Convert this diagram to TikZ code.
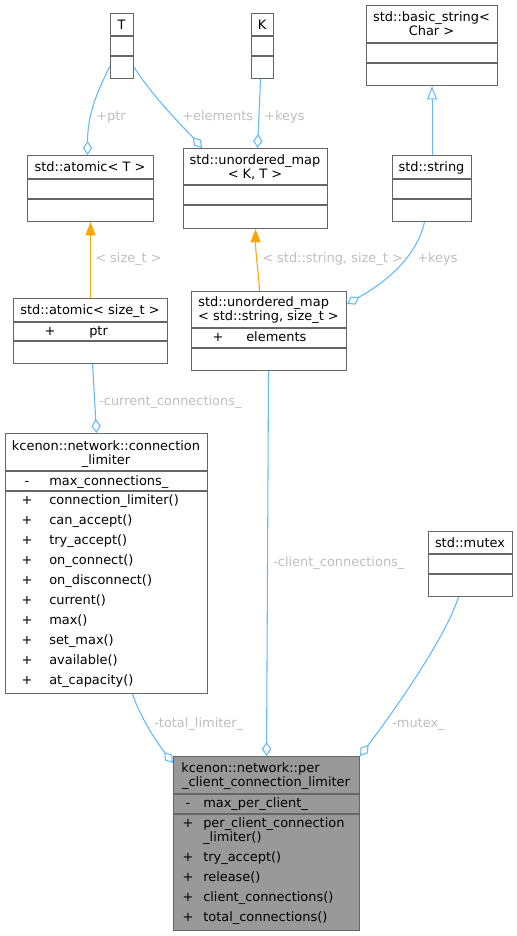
\documentclass[tikz,border=0pt]{standalone}
\usepackage{fontspec}
\setmainfont{DejaVu Sans}
\usetikzlibrary{arrows.meta,calc}
\definecolor{boxgray}{HTML}{666666}
\definecolor{focalfill}{HTML}{999999}
\definecolor{edgeblue}{HTML}{63B8FF}
\definecolor{edgeorange}{HTML}{FFA500}
\definecolor{lblgray}{HTML}{BEBEBE}
\tikzset{
  umlbox/.style={draw=boxgray, line width=0.8pt, rectangle, inner sep=0pt, anchor=north west, fill=white},
  focalbox/.style={umlbox, fill=focalfill},
  divline/.style={draw=boxgray, line width=0.8pt},
  txt/.style={inner sep=0pt, anchor=base, font=\fontsize{9.7pt}{12pt}\selectfont},
  txtw/.style={txt, anchor=base west},
  lbl/.style={txtw, text=lblgray},
  member/.style={draw=edgeblue, line width=0.8pt, -{Diamond[open, length=10.5pt, width=7pt]}},
  inherit/.style={draw=edgeblue, line width=0.8pt, -{Triangle[open, length=10pt, width=7.5pt]}},
  templ/.style={draw=edgeorange, line width=0.8pt, -{Triangle[length=10pt, width=7.5pt, fill=edgeorange]}},
}
\begin{document}
\begin{tikzpicture}[x=0.75pt,y=-0.75pt]
\useasboundingbox (0,0) rectangle (517,936);

% ---------- boxes ----------
% T
\node[umlbox, minimum width=23*0.75pt, minimum height=65*0.75pt] (nT) at (110,13) {};
\draw[divline] (110,36) -- (133,36) (110,56) -- (133,56);
\node[txt] (tT) at (121.5,29.5) {T};
% K
\node[umlbox, minimum width=22*0.75pt, minimum height=65*0.75pt] (nK) at (251,13) {};
\draw[divline] (251,36) -- (273,36) (251,56) -- (273,56);
\node[txt] (tK) at (262,29.5) {K};
% basic_string
\node[umlbox, minimum width=131*0.75pt, minimum height=80*0.75pt] (nBS) at (366,5) {};
\draw[divline] (366,43) -- (497,43) (366,63) -- (497,63);
\node[txt] (tBS1) at (431.5,21.5) {std::basic\_string<};
\node[txt] (tBS2) at (431.5,35.5) {Char >};
% atomic<T>
\node[umlbox, minimum width=126*0.75pt, minimum height=66*0.75pt] (nAT) at (27,155) {};
\draw[divline] (27,179) -- (153,179) (27,199) -- (153,199);
\node[txt] (tAT) at (90,171.5) {std::atomic< T >};
% unordered_map<K,T>
\node[umlbox, minimum width=144*0.75pt, minimum height=80*0.75pt] (nMK) at (183,148) {};
\draw[divline] (183,185) -- (327,185) (183,205) -- (327,205);
\node[txt] (tMK1) at (255,164.5) {std::unordered\_map};
\node[txt] (tMK2) at (255,178) {< K, T >};
% std::string
\node[umlbox, minimum width=79*0.75pt, minimum height=66*0.75pt] (nStr) at (392,155) {};
\draw[divline] (392,179) -- (471,179) (392,199) -- (471,199);
\node[txt] (tStr) at (431.5,171.5) {std::string};
% atomic<size_t>
\node[umlbox, minimum width=154*0.75pt, minimum height=65*0.75pt] (nAS) at (13,298) {};
\draw[divline] (13,322) -- (167,322) (13,341) -- (167,341);
\node[txt] (tAS) at (90,314.5) {std::atomic< size\_t >};
\node[txt] (tASp) at (50,335.5) {+};
\node[txtw] (tASn) at (89,335.5) {ptr};
% unordered_map<string,size_t>
\node[umlbox, minimum width=155*0.75pt, minimum height=79*0.75pt] (nMS) at (191,291) {};
\draw[divline] (191,328) -- (346,328) (191,348) -- (346,348);
\node[txtw] (tMS1) at (198,306.5) {std::unordered\_map};
\node[txt] (tMS2) at (268.5,320.5) {< std::string, size\_t >};
\node[txt] (tMSp) at (218,341.5) {+};
\node[txtw] (tMSn) at (246,341.5) {elements};
% connection_limiter
\node[umlbox, minimum width=202*0.75pt, minimum height=260*0.75pt] (nCL) at (5,433) {};
\draw[divline] (5,471) -- (207,471) (5,491) -- (207,491);
\node[txt] (tCL1) at (106,450) {kcenon::network::connection};
\node[txt] (tCL2) at (106,464.5) {\_limiter};
\node[txt] (tCLm) at (27,485) {-};
\node[txtw] (tCLmn) at (49,485) {max\_connections\_};
\foreach \i/\nm in {0/connection\_limiter(),1/can\_accept(),2/try\_accept(),3/on\_connect(),4/on\_disconnect(),5/current(),6/max(),7/set\_max(),8/available(),9/at\_capacity()}{
  \node[txt] (tCLp\i) at (27,504+20*\i) {+};
  \node[txtw] (tCLf\i) at (49,504+20*\i) {\nm};
}
% std::mutex
\node[umlbox, minimum width=84*0.75pt, minimum height=65*0.75pt] (nMX) at (428,531) {};
\draw[divline] (428,554) -- (512,554) (428,574) -- (512,574);
\node[txt] (tMX) at (470,547.5) {std::mutex};
% per_client_connection_limiter (focal)
\node[focalbox, minimum width=186*0.75pt, minimum height=174*0.75pt] (nPC) at (173,756) {};
\draw[divline] (173,794) -- (359,794) (173,814) -- (359,814);
\node[txtw] (tPC1) at (181,772.5) {kcenon::network::per};
\node[txt] (tPC2) at (266,786.5) {\_client\_connection\_limiter};
\node[txt] (tPCm) at (188,807) {-};
\node[txtw] (tPCmn) at (203,807) {max\_per\_client\_};
\node[txt] (tPCp0) at (188,827) {+};
\node[txtw] (tPCf0) at (203,827) {per\_client\_connection};
\node[txtw] (tPCf0b) at (203,841) {\_limiter()};
\foreach \i/\nm in {1/try\_accept(),2/release(),3/client\_connections(),4/total\_connections()}{
  \node[txt] (tPCp\i) at (188,841+20*\i) {+};
  \node[txtw] (tPCf\i) at (203,841+20*\i) {\nm};
}

% ---------- connectors ----------
\draw[member] ($(nT.south west)+(0,-13)$) .. controls +(-14,28) and +(0,-40) .. ($(nAT.north)+(-3,0)$);
\draw[member] ($(nT.south east)+(0,-12)$) .. controls +(20,32) and +(-12,-14) .. ($(nMK.north west)+(19,0)$);
\draw[member] ($(nK.south)+(-2,0)$) -- ($(nMK.north)+(2,0)$);
\draw[inherit] (nStr.north) -- (nBS.south);
\draw[templ] (nAS.north) -- (nAT.south);
\draw[templ] ($(nMS.north)+(-9.5,0)$) .. controls +(-2,-30) and +(0,25) .. (nMK.south);
\draw[member] ($(nStr.south)+(-7.5,0)$) .. controls +(-10,42) and +(28,-16) .. ($(nMS.north east)+(0,13)$);
\draw[member] ($(nAS.south)+(2,0)$) -- ($(nCL.north)+(-10,0)$);
\draw[member] ($(nMS.south)+(-0.5,0)$) -- (nPC.north);
\draw[member] ($(nMX.south)+(-12,0)$) .. controls +(-15,45) and +(30,-40) .. (nPC.north east);
\draw[member] ($(nCL.south)+(26,0)$) .. controls +(8,25) and +(-12,-15) .. ($(nPC.north west)+(0,7)$);

% ---------- labels ----------
\node[lbl] (l1) at (96,120) {+ptr};
\node[lbl] (l2) at (182,120) {+elements};
\node[lbl] (l3) at (264,120) {+keys};
\node[lbl] (l4) at (95,262) {< size\_t >};
\node[lbl] (l5) at (262,262) {< std::string, size\_t >};
\node[lbl] (l6) at (417,262) {+keys};
\node[lbl] (l7) at (99,405) {-current\_connections\_};
\node[lbl] (l8) at (273,566) {-client\_connections\_};
\node[lbl] (l9) at (154,727) {-total\_limiter\_};
\node[lbl] (l10) at (392,727) {-mutex\_};
\end{tikzpicture}
\end{document}
